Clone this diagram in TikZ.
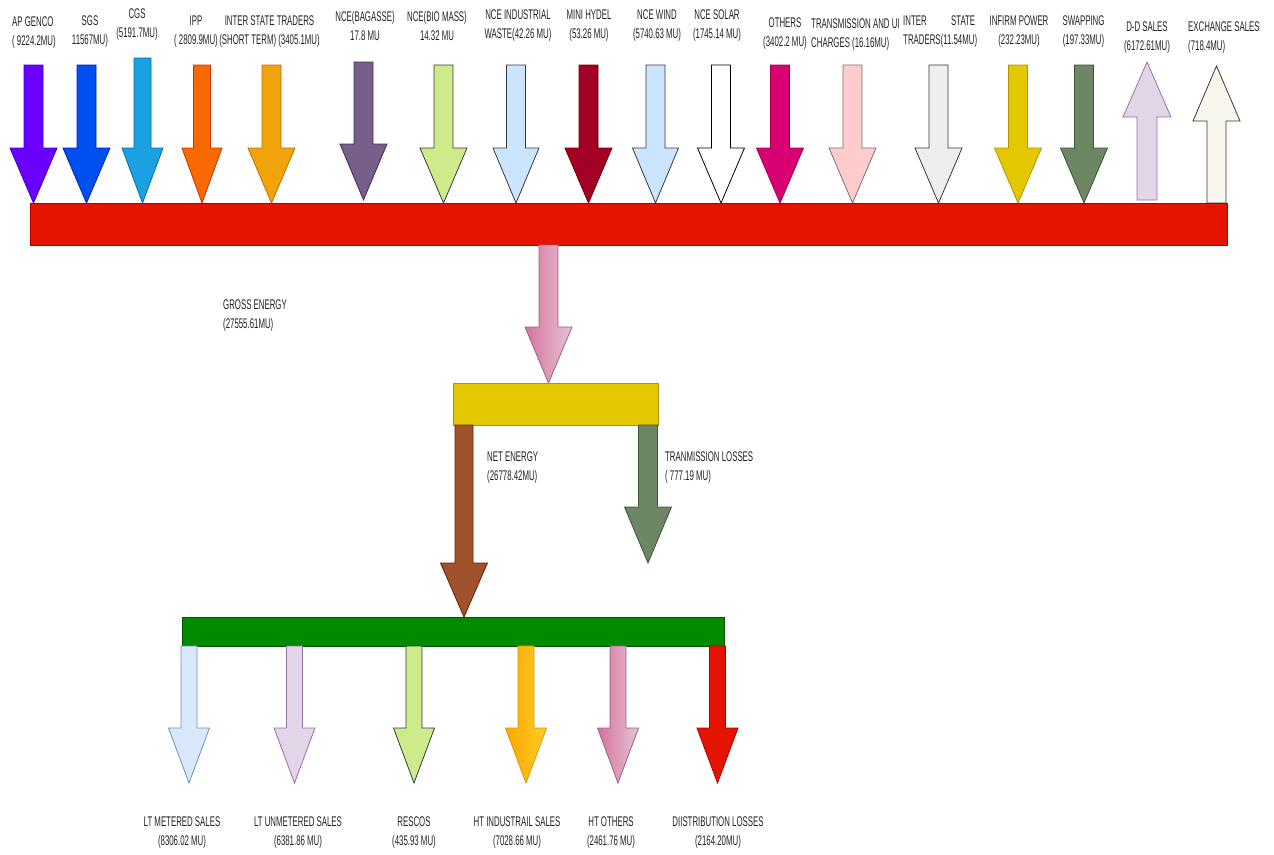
\documentclass[tikz,border=0pt]{standalone}
\usepackage{fontspec}
\setmainfont[FakeStretch=0.56]{Liberation Sans}
\usetikzlibrary{shadings}
\definecolor{txt}{HTML}{222222}
\definecolor{cApg}{HTML}{6A00FF}\definecolor{sApg}{HTML}{3700CC}
\definecolor{cSgs}{HTML}{0050EF}\definecolor{sSgs}{HTML}{001DBC}
\definecolor{cCgs}{HTML}{1BA1E2}\definecolor{sCgs}{HTML}{006EAF}
\definecolor{cIpp}{HTML}{FA6800}\definecolor{sIpp}{HTML}{C73500}
\definecolor{cIst}{HTML}{F0A30A}\definecolor{sIst}{HTML}{BD7000}
\definecolor{cBag}{HTML}{76608A}\definecolor{sBag}{HTML}{432D57}
\definecolor{cBio}{HTML}{CDEB8B}\definecolor{sGry}{HTML}{36393D}
\definecolor{cInd}{HTML}{CCE5FF}
\definecolor{cMin}{HTML}{A20025}\definecolor{sMin}{HTML}{6F0000}
\definecolor{cOth}{HTML}{D80073}\definecolor{sOth}{HTML}{A50040}
\definecolor{cTra}{HTML}{FFCCCC}
\definecolor{cIts}{HTML}{EEEEEE}
\definecolor{cInf}{HTML}{E3C800}\definecolor{sInf}{HTML}{B09500}
\definecolor{cSwp}{HTML}{6D8764}\definecolor{sSwp}{HTML}{3A5431}
\definecolor{cDd}{HTML}{E1D5E7}\definecolor{sDd}{HTML}{9673A6}
\definecolor{cExc}{HTML}{F9F7ED}
\definecolor{cRed}{HTML}{E51400}\definecolor{sRed}{HTML}{B20000}
\definecolor{pinkA}{HTML}{D5739D}\definecolor{pinkB}{HTML}{E6C2D6}\definecolor{sPink}{HTML}{996185}
\definecolor{cBrn}{HTML}{A0522D}\definecolor{sBrn}{HTML}{6D1F00}
\definecolor{cGrn}{HTML}{008A00}\definecolor{sGrn}{HTML}{005700}
\definecolor{cLtm}{HTML}{DAE8FC}\definecolor{sLtm}{HTML}{6C8EBF}
\definecolor{orgA}{HTML}{FFA500}\definecolor{orgB}{HTML}{FFCD28}\definecolor{sOrg}{HTML}{D79B00}
\newcommand{\blockarrow}[7]{%
  \path[#7] ({#1-#5},#2) -- ({#1+#5},#2) -- ({#1+#5},#3) -- ({#1+#6},#3) -- (#1,#4)
    -- ({#1-#6},#3) -- ({#1-#5},#3) -- cycle;}
\tikzset{
  lbl/.style={inner sep=0pt, text=txt, font=\fontsize{14}{19}\selectfont, align=center},
  lbll/.style={lbl, align=left, anchor=west},
  barbox/.style={rectangle, inner sep=0pt, line width=0.8pt},
  arr/.style={line width=0.8pt, line join=miter},
}
\begin{document}
\begin{tikzpicture}[x=1pt,y=-1pt]
\useasboundingbox (0,0) rectangle (1274,854);
\fill[white] (0,0) rectangle (1274,854);

% top incoming arrows
\blockarrow{33.5}{65}{148}{203}{9.5}{23.5}{arr, fill=cApg, draw=sApg}
\blockarrow{86.5}{65}{148}{203}{9.5}{23.5}{arr, fill=cSgs, draw=sSgs}
\blockarrow{142.5}{58}{148}{203}{8.5}{20.5}{arr, fill=cCgs, draw=sCgs}
\blockarrow{202}{65}{148}{203}{8.5}{20}{arr, fill=cIpp, draw=sIpp}
\blockarrow{271.5}{65}{148}{203}{9.5}{23.5}{arr, fill=cIst, draw=sIst}
\blockarrow{363.5}{62}{144}{200}{9.5}{23.5}{arr, fill=cBag, draw=sBag}
\blockarrow{443.5}{65}{148}{203}{9.5}{23.5}{arr, fill=cBio, draw=sGry}
\blockarrow{516}{65}{148}{203}{9.5}{23}{arr, fill=cInd, draw=sGry}
\blockarrow{588.5}{65}{148}{203}{9.5}{23.5}{arr, fill=cMin, draw=sMin}
\blockarrow{655.5}{65}{148}{203}{9.5}{23}{arr, fill=cInd, draw=sGry}
\blockarrow{721}{65}{148}{203}{9.5}{23.5}{arr, fill=white, draw=black}
\blockarrow{780}{65}{148}{203}{9.5}{23.5}{arr, fill=cOth, draw=sOth}
\blockarrow{852.5}{65}{148}{203}{9.5}{23.5}{arr, fill=cTra, draw=sGry!70}
\blockarrow{938.5}{65}{148}{203}{9.5}{23.5}{arr, fill=cIts, draw=sGry}
\blockarrow{1018}{65}{148}{203}{9.5}{23.5}{arr, fill=cInf, draw=sInf}
\blockarrow{1084}{65}{148}{203}{9.5}{23.5}{arr, fill=cSwp, draw=sSwp}
% outgoing (upward) arrows
\blockarrow{1147}{200}{117}{62}{10}{24}{arr, fill=cDd, draw=sDd}
\blockarrow{1216.5}{203}{121}{66}{9.5}{23.5}{arr, fill=cExc, draw=sGry}

% gross energy bar
\node[barbox, fill=cRed, draw=sRed, minimum width=1197pt, minimum height=42pt] (gross) at (628.5,224) {};

% gross energy arrow
\blockarrow{548.5}{245}{327}{383}{9.5}{23.5}{arr, left color=pinkA, right color=pinkB, draw=sPink}

% yellow bar
\node[barbox, fill=cInf, draw=sInf, minimum width=205pt, minimum height=42pt] (net) at (555.5,404) {};

% net energy and transmission losses arrows
\blockarrow{464}{425}{563}{617}{9}{23.5}{arr, fill=cBrn, draw=sBrn}
\blockarrow{648}{425}{507}{563}{9.5}{23.5}{arr, fill=cSwp, draw=sSwp}

% green bar
\node[barbox, fill=cGrn, draw=sGrn, minimum width=542pt, minimum height=29pt] (dist) at (453,631.5) {};

% bottom arrows
\blockarrow{189}{646}{728}{783}{8}{20.5}{arr, fill=cLtm, draw=sLtm}
\blockarrow{294.5}{646}{728}{783}{8}{20.5}{arr, fill=cDd, draw=sDd}
\blockarrow{414}{646}{728}{783}{8}{20.5}{arr, fill=cBio, draw=sGry}
\blockarrow{526}{646}{728}{783}{8}{20.5}{arr, left color=orgA, right color=orgB, draw=sOrg}
\blockarrow{618}{646}{728}{783}{8}{20.5}{arr, left color=pinkA, right color=pinkB, draw=sPink}
\blockarrow{717.5}{646}{728}{783}{8}{20.5}{arr, fill=cRed, draw=sRed}

% top labels
\node[lbll] (lApg) at (12,32.5) {AP GENCO\\( 9224.2MU)};
\node[lbl] (lSgs) at (90,32) {SGS\\11567MU)};
\node[lbl] (lCgs) at (137,24.5) {CGS\\(5191.7MU)};
\node[lbl] (lIpp) at (196,32) {IPP\\( 2809.9MU)};
\node[lbl] (lIst) at (269.5,32) {INTER STATE TRADERS\\(SHORT TERM) (3405.1MU)};
\node[lbl] (lBag) at (365,26) {NCE(BAGASSE)\\17.8 MU};
\node[lbl] (lBio) at (437,26) {NCE(BIO MASS)\\14.32 MU};
\node[lbl] (lInd) at (518,26) {NCE INDUSTRIAL\\WASTE(42.26 MU)};
\node[lbl] (lMin) at (589,26) {MINI HYDEL\\(53.26 MU)};
\node[lbl] (lWnd) at (657,26) {NCE WIND\\(5740.63 MU)};
\node[lbl] (lSol) at (717,26) {NCE SOLAR\\(1745.14 MU)};
\node[lbl] (lOth) at (785,34) {OTHERS\\(3402.2 MU)};
\node[lbll] (lTra) at (811,34.5) {TRANSMISSION AND UI\\CHARGES (16.16MU)};
\node[lbll] (lIts) at (903,32) {\makebox[72pt][s]{INTER\hfill STATE}\\TRADERS(11.54MU)};
\node[lbl] (lInf) at (1019,32) {INFIRM POWER\\(232.23MU)};
\node[lbl] (lSwp) at (1083.5,32) {SWAPPING\\(197.33MU)};
\node[lbl] (lDd) at (1147,38) {D-D SALES\\(6172.61MU)};
\node[lbll] (lExc) at (1188,38) {EXCHANGE SALES\\(718.4MU)};

% middle labels
\node[lbll] (lGross) at (223,316) {GROSS ENERGY\\(27555.61MU)};
\node[lbll] (lNet) at (487,468) {NET ENERGY\\(26778.42MU)};
\node[lbll] (lLoss) at (665,468) {TRANMISSION LOSSES\\( 777.19 MU)};

% bottom labels
\node[lbl] (lLtm) at (182,833) {LT METERED SALES\\(8306.02 MU)};
\node[lbl] (lLtu) at (298,833) {LT UNMETERED SALES\\(6381.86 MU)};
\node[lbl] (lRes) at (414,833) {RESCOS\\(435.93 MU)};
\node[lbl] (lHti) at (517,833) {HT INDUSTRAIL SALES\\(7028.66 MU)};
\node[lbl] (lHto) at (611,833) {HT OTHERS\\(2461.76 MU)};
\node[lbl] (lDis) at (718,833) {DIISTRIBUTION LOSSES\\(2164.20MU)};
\end{tikzpicture}
\end{document}
